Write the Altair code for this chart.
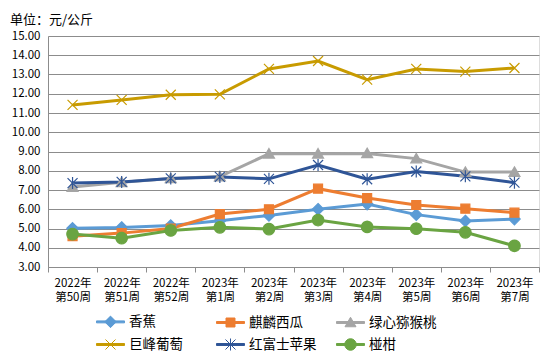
import math
import altair as alt
import pandas as pd

# ---- data ----
years = ["2022年", "2022年", "2022年", "2023年", "2023年", "2023年", "2023年", "2023年", "2023年", "2023年"]
weeks = ["第50周", "第51周", "第52周", "第1周", "第2周", "第3周", "第4周", "第5周", "第6周", "第7周"]
series = ["香蕉", "麒麟西瓜", "绿心猕猴桃", "巨峰葡萄", "红富士苹果", "椪柑"]
banana = [5.01, 5.05, 5.15, 5.40, 5.68, 6.00, 6.27, 5.72, 5.39, 5.49]
watermelon = [4.60, 4.76, 5.00, 5.75, 6.00, 7.07, 6.58, 6.22, 6.03, 5.82]
kiwi = [7.15, 7.40, 7.60, 7.70, 8.88, 8.88, 8.90, 8.63, 7.93, 7.93]
grape = [11.42, 11.68, 11.95, 11.97, 13.29, 13.70, 12.73, 13.29, 13.15, 13.34]
apple = [7.36, 7.42, 7.60, 7.68, 7.58, 8.30, 7.56, 7.96, 7.71, 7.38]
ponkan = [4.71, 4.50, 4.90, 5.06, 4.97, 5.44, 5.08, 4.99, 4.80, 4.10]
y_ticks = [3, 4, 5, 6, 7, 8, 9, 10, 11, 12, 13, 14, 15]

colors = ["#5B9BD5", "#ED7D31", "#A5A5A5", "#C89B00", "#2F5597", "#6AA442"]

cats = [f"{y}|{w}" for y, w in zip(years, weeks)]
values = [banana, watermelon, kiwi, grape, apple, ponkan]
rows = []
for s, vals in zip(series, values):
    for c, v in zip(cats, vals):
        rows.append({"cat": c, "series": s, "lg": s, "v": v})
df = pd.DataFrame(rows)

# ---- marker shapes (unit = 5px) ----
def poly(pts, k=1.0):
    return "M" + "L".join(f"{x*k:.3f},{y*k:.3f}" for x, y in pts) + "Z"

def marker_paths(k):
    circ = [(1.15 * math.cos(2 * math.pi * i / 20), 1.15 * math.sin(2 * math.pi * i / 20)) for i in range(20)]
    return [
        poly([(0, -1.15), (1.15, 0), (0, 1.15), (-1.15, 0)], k),
        poly([(-0.9, -0.9), (0.9, -0.9), (0.9, 0.9), (-0.9, 0.9)], k),
        poly([(0, -1.05), (1.1, 0.85), (-1.1, 0.85)], k),
        f"M{-k},{-k}L{k},{k}M{-k},{k}L{k},{-k}",
        f"M{-k},{-k}L{k},{k}M{-k},{k}L{k},{-k}M0,{-1.2*k}L0,{1.2*k}",
        poly(circ, k),
    ]

point_shapes = marker_paths(1.0)
kk = 5.0 / 14.0
bar = "M-1,-0.07L1,-0.07L1,0.07L-1,0.07Z"
legend_shapes = [bar + p for p in marker_paths(kk)]

FONT = "Noto Sans CJK SC"
GRID = "#8C8C8C"

x_enc = alt.X(
    "cat:N", sort=cats, bandPosition=0.5,
    scale=alt.Scale(type="band", paddingInner=0, paddingOuter=0),
    axis=alt.Axis(title=None, labelAngle=0, tickBand="extent", grid=False,
                  domainColor=GRID, tickColor=GRID, tickSize=5,
                  labelExpr="split(datum.label, '|')", labelFont=FONT, labelFontSize=11.5,
                  labelColor="#000000", labelPadding=5, labelLineHeight=14),
)
y_enc = alt.Y(
    "v:Q", scale=alt.Scale(domain=[3, 15], nice=False, zero=False),
    axis=alt.Axis(title=None, values=y_ticks, format=".2f", ticks=False, gridColor=GRID,
                  domainColor=GRID, labelFont=FONT, labelFontSize=11.5, labelColor="#000000",
                  labelPadding=8),
)

lines = alt.Chart(df).mark_line(strokeWidth=3).encode(
    x=x_enc, y=y_enc,
    color=alt.Color("series:N", scale=alt.Scale(domain=series, range=colors), legend=None),
    detail="series:N",
)

points = alt.Chart(df).mark_point(filled=True, size=100, strokeWidth=1.2, opacity=1).encode(
    x=x_enc, y=y_enc,
    fill=alt.Fill("series:N", scale=alt.Scale(domain=series, range=colors), legend=None),
    stroke=alt.Stroke("series:N", scale=alt.Scale(domain=series, range=colors), legend=None),
    shape=alt.Shape("series:N", scale=alt.Scale(domain=series, range=point_shapes), legend=None),
)

leg = alt.Legend(
    title=None, orient="none", direction="horizontal", legendX=48, legendY=271, columns=3,
    gridAlign="all", columnPadding=17, rowPadding=-8, symbolSize=784, symbolStrokeWidth=1,
    symbolOpacity=1, labelFont=FONT, labelFontSize=13.5, labelColor="#000000", labelOffset=4,
    padding=0,
)
legend_layer = alt.Chart(df).mark_point(filled=True, size=784, opacity=0).encode(
    x=x_enc, y=y_enc,
    fill=alt.Fill("lg:N", scale=alt.Scale(domain=series, range=colors), legend=leg),
    stroke=alt.Stroke("lg:N", scale=alt.Scale(domain=series, range=colors), legend=leg),
    shape=alt.Shape("lg:N", scale=alt.Scale(domain=series, range=legend_shapes), legend=leg),
)

chart = alt.layer(lines, points, legend_layer).resolve_scale(
    fill="independent", stroke="independent", shape="independent"
).properties(
    width=491, height=231,
    padding={"left": 40, "top": 28, "right": 3, "bottom": 87},
    autosize=alt.AutoSizeParams(type="none"),
    title=alt.TitleParams("单位：元/公斤", anchor="start", frame="group", dx=-38, offset=3,
                          font=FONT, fontSize=13, fontWeight="normal", color="#000000"),
).configure_view(stroke=None).configure(background="white")

chart.save("out.html", embed_options={"renderer": "svg", "actions": False})
